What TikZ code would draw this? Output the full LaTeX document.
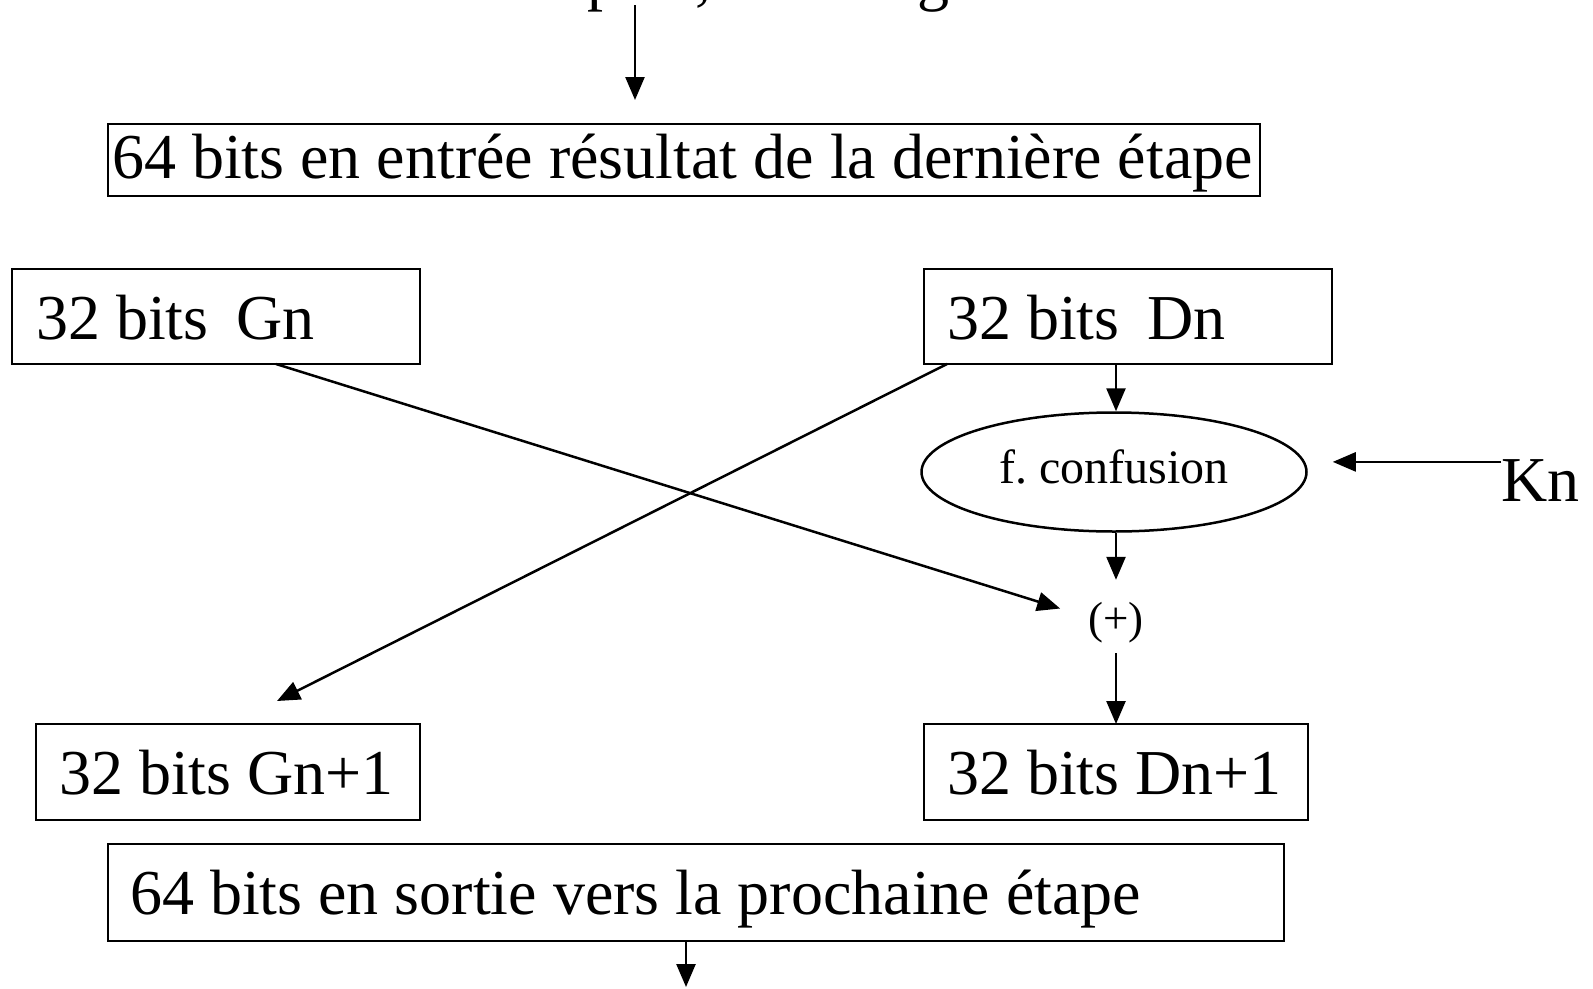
\documentclass[tikz,border=0pt]{standalone}
\usepackage{fontspec}
\setmainfont{Liberation Serif}
\usetikzlibrary{arrows.meta,shapes.geometric}
\tikzset{
  big/.style={font=\fontsize{64}{70}\selectfont},
  mid/.style={font=\fontsize{48}{54}\selectfont},
  sml/.style={font=\fontsize{45}{50}\selectfont},
  box/.style={draw, line width=2.6pt, rectangle, anchor=north west, outer sep=0pt,
    inner ysep=0pt, align=flush left, big, text height=45pt, text depth=0pt},
  arr/.style={line width=2.5pt, -{Triangle[length=23pt,width=19pt]}},
}
\begin{document}
\begin{tikzpicture}[x=1pt,y=-1pt]
\useasboundingbox (0,0) rectangle (1593,988);

% heading line, only its lower part falls inside the page
\node[big, inner sep=0pt, anchor=base west] (title) at (214,-2) {Entrée de l'étape n, de l'étage n-1};
\coordinate (src) at (635,5);

% 64-bit blocks
\node[box, minimum width=1152pt, minimum height=72pt, inner xsep=4pt, text width=1144pt, text depth=9pt]
  (box1) at (108,124) {\mbox{64 bits en entrée résultat de la dernière étape}};
\node[box, minimum width=1176pt, minimum height=97pt, inner xsep=22pt, text width=1132pt, text depth=2pt]
  (box2) at (108,844) {\mbox{64 bits en sortie vers la prochaine étape}};

% 32-bit halves
\node[box, minimum width=408pt, minimum height=95pt, inner xsep=24pt, text width=360pt]
  (Gn) at (12,269) {\mbox{32 bits\hspace{28pt}Gn}};
\node[box, minimum width=408pt, minimum height=95pt, inner xsep=23pt, text width=362pt]
  (Dn) at (924,269) {\mbox{32 bits\hspace{28pt}Dn}};
\node[box, minimum width=384pt, minimum height=96pt, inner xsep=23pt, text width=338pt]
  (Gn1) at (36,724) {\mbox{32 bits Gn+1}};
\node[box, minimum width=384pt, minimum height=96pt, inner xsep=23pt, text width=338pt]
  (Dn1) at (924,724) {\mbox{32 bits Dn+1}};

% round function, key and xor
\node[ellipse, draw, line width=2.5pt, mid, inner sep=0pt, minimum width=385pt, minimum height=119pt,
  text height=22pt, text depth=0pt] (conf) at (1114,472) {f.\ confusion};
\node[sml, inner sep=0pt, minimum height=73pt, text height=33pt, text depth=0pt] (xor) at (1116,616.5) {(+)};
\node[big, inner sep=0pt, anchor=base west] (kn) at (1501,501) {Kn};
\coordinate (sink) at (686,987);

% connectors
\draw[arr, shorten >=24pt] (src) -- (src |- box1.north);
\draw[arr] (xor.north |- Dn.south) -- (xor.north |- conf.north);
\draw[arr] (xor.north |- conf.south) -- (xor.north);
\draw[arr] (xor.south) -- (xor.south |- Dn1.north);
\draw[arr, shorten >=25pt] ([yshift=-3pt]kn.north west) -- ([yshift=-3pt]kn.north west -| conf.east);
\draw[arr] ([xshift=264pt]Gn.south west) -- ([xshift=-28pt,yshift=8pt]xor.west);
\draw[arr] ([xshift=23pt]Dn.south west) -- ([xshift=241pt,yshift=23pt]Gn1.north west);
\draw[arr] (sink |- box2.south) -- (sink);
\end{tikzpicture}
\end{document}
